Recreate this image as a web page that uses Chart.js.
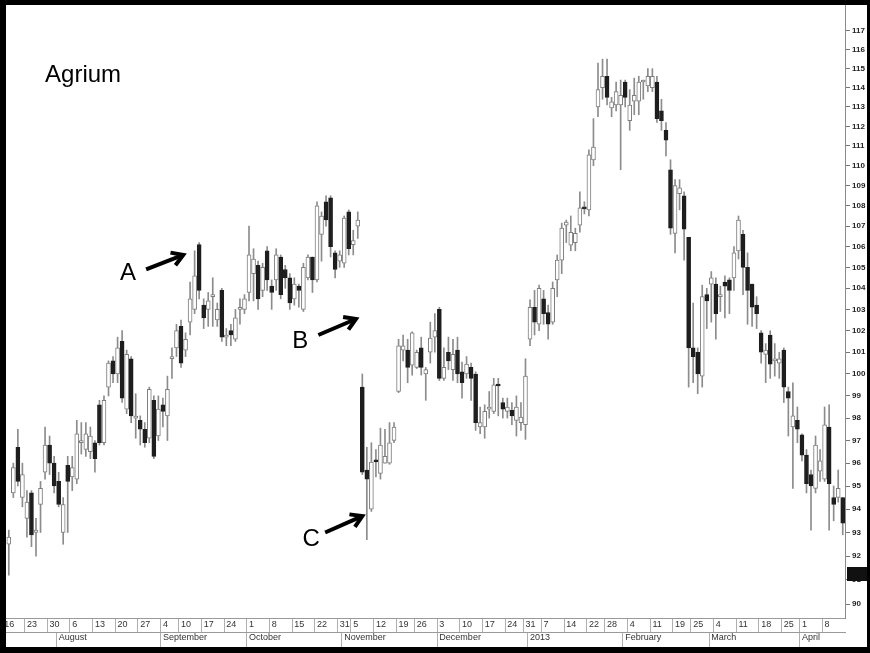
<!DOCTYPE html>
<html>
<head>
<meta charset="utf-8">
<script src="https://cdn.jsdelivr.net/npm/chart.js@4.4.1/dist/chart.umd.min.js"></script>
<style>
  html, body { margin: 0; padding: 0; background: #fff; }
  #wrap { position: relative; width: 870px; height: 653px; overflow: hidden; }
  #frame {
    position: absolute; left: 0; top: 0; width: 870px; height: 653px;
    box-sizing: border-box; border-style: solid; border-color: #000;
    border-width: 5px 3px 6px 6px; pointer-events: none;
  }
</style>
</head>
<body>
<div id="wrap">
  <canvas id="chart" width="870" height="653"></canvas>
  <div id="frame"></div>
</div>
<script>
// trading calendar, Jul 16 2012 - Apr 12 2013 (weekends and exchange holidays left out)
const firstDay = '2012-07-16';
const lastDay = '2013-04-12';
const holidays = ['2012-09-03', '2012-10-29', '2012-10-30', '2012-11-22', '2012-12-25',
  '2013-01-01', '2013-01-21', '2013-02-18', '2013-03-29'];

// tick labels
const weekTicks = ['16', '23', '30', '6', '13', '20', '27', '4', '10', '17', '24', '1', '8', '15', '22',
  '31', '5', '12', '19', '26', '3', '10', '17', '24', '31', '7', '14', '22', '28', '4', '11', '19', '25',
  '4', '11', '18', '25', '1', '8'];
const monthTicks = ['August', 'September', 'October', 'November', 'December', '2013', 'February', 'March', 'April'];
const priceTicks = [90, 91, 92, 93, 94, 95, 96, 97, 98, 99, 100, 101, 102, 103, 104, 105, 106, 107, 108,
  109, 110, 111, 112, 113, 114, 115, 116, 117];

// daily prices (first day sits under the frame, not visible)
const open = [null,
  92.5, 94.7, 96.7, 94.5, 93.6, 94.7, 93.0, 94.2, 95.6, 96.8,
  96.0, 95.2, 93.0, 95.9, 95.4, 95.3, 96.9, 96.6, 96.5, 96.9,
  98.6, 96.9, 99.4, 100.6, 100.0, 101.5, 98.4, 100.7, 98.0, 97.9,
  97.5, 97.1, 98.8, 97.2, 98.6, 98.1, 100.7, 101.2, 102.2, 101.1,
  102.4, 103.0, 106.1, 103.2, 103.0, 103.6, 102.5, 103.9, 101.7, 102.0,
  101.6, 103.0, 103.0, 103.8, 104.7, 105.1, 103.9, 105.8, 104.1, 104.4,
  105.5, 104.9, 104.5, 103.5, 104.1, 103.0, 104.5, 105.5, 104.4, 106.6,
  108.2, 108.4, 105.7, 105.3, 105.2, 107.7, 106.1, 107.0, 99.4, 95.7,
  94.0, 96.15, 95.55, 96.0, 96.0, 97.0, 99.2, 101.1, 101.1, 100.4,
  100.3, 101.2, 100.0, 101.0, 101.7, 103.0, 99.8, 101.0, 100.2, 101.1,
  100.1, 100.0, 100.3, 100.0, 97.6, 97.6, 98.4, 98.3, 99.5, 98.7,
  98.3, 98.35, 97.9, 97.8, 97.7, 101.6, 103.1, 102.3, 103.5, 102.85,
  102.4, 104.4, 105.35, 107.05, 106.07, 106.2, 107.05, 107.95, 107.8, 110.3,
  113.0, 114.0, 114.6, 112.95, 113.1, 113.1, 114.3, 112.3, 113.3, 113.3,
  114.3, 114.1, 114.0, 114.3, 112.8, 111.8, 109.8, 106.65, 108.6, 108.5,
  106.45, 101.2, 101.0, 99.9, 103.7, 104.2, 104.2, 103.6, 104.3, 104.4,
  104.5, 105.8, 106.6, 105.0, 104.2, 103.2, 101.9, 100.9, 101.8, 100.6,
  100.5, 101.1, 99.2, 97.6, 97.9, 97.25, 96.35, 95.5, 94.9, 95.65,
  95.3, 97.6, 94.5, 94.5, 94.5];
const high = [null,
  93.1, 96.0, 97.5, 96.0, 94.8, 94.8, 93.6, 95.2, 97.6, 97.2,
  96.3, 95.6, 94.5, 96.3, 96.3, 97.9, 97.8, 97.8, 97.6, 97.0,
  98.8, 99.0, 100.6, 100.8, 101.7, 102.0, 101.1, 100.8, 99.1, 98.1,
  97.8, 99.4, 99.0, 99.0, 98.9, 99.9, 101.2, 102.3, 102.5, 101.9,
  104.3, 105.8, 106.2, 103.5, 103.8, 104.5, 103.3, 104.0, 102.1, 102.3,
  103.0, 103.5, 103.7, 107.0, 105.9, 105.3, 105.2, 106.0, 104.4, 105.9,
  105.6, 105.1, 104.7, 104.5, 104.2, 105.2, 105.6, 105.5, 108.2, 107.7,
  108.5, 108.5, 105.8, 105.8, 107.5, 107.8, 106.8, 107.7, 100.0, 96.7,
  96.9, 96.6, 97.55, 97.5, 97.8, 97.8, 101.6, 101.8, 101.6, 101.95,
  101.1, 101.7, 100.3, 102.4, 102.8, 103.1, 101.2, 101.7, 101.6, 101.7,
  100.55, 100.8, 100.5, 100.1, 98.5, 98.6, 99.2, 99.8, 99.8, 98.9,
  98.9, 98.7, 99.0, 98.7, 100.7, 103.45, 103.9, 104.15, 103.9, 103.2,
  104.3, 105.6, 107.15, 107.3, 107.5, 106.9, 108.7, 108.2, 110.8, 112.4,
  115.3, 115.5, 115.5, 113.5, 114.3, 114.4, 114.4, 113.9, 114.5, 114.6,
  114.4, 115.0, 115.0, 114.6, 113.4, 112.2, 110.3, 109.3, 109.3, 108.7,
  106.45, 103.3, 101.2, 104.15, 104.0, 104.8, 104.5, 104.1, 104.6, 104.5,
  106.0, 107.5, 106.8, 105.7, 104.2, 103.6, 102.0, 101.4, 102.0, 101.4,
  101.0, 101.2, 99.4, 99.6, 98.5, 97.3, 96.6, 95.7, 97.2, 96.6,
  98.5, 98.6, 95.0, 95.7, 94.5];
const low = [null,
  91.2, 94.5, 95.0, 94.1, 92.8, 92.4, 92.0, 93.0, 95.3, 95.5,
  94.7, 94.1, 92.5, 93.0, 94.8, 95.1, 96.4, 96.3, 96.2, 95.6,
  96.8, 96.8, 99.0, 99.6, 99.6, 98.7, 98.2, 97.8, 97.1, 96.8,
  96.7, 96.9, 96.2, 97.0, 97.6, 97.0, 99.8, 100.8, 100.3, 100.8,
  101.8, 102.8, 103.5, 102.1, 102.2, 102.2, 102.2, 101.5, 101.3, 101.3,
  101.5, 102.3, 102.8, 103.4, 103.4, 103.0, 103.6, 103.9, 103.0, 103.9,
  103.5, 104.0, 103.0, 103.2, 103.1, 102.9, 104.4, 103.8, 104.3, 105.3,
  107.0, 105.5, 104.5, 105.0, 105.0, 105.6, 105.6, 106.4, 95.5, 92.7,
  93.9, 95.4, 95.3, 96.0, 95.95, 96.9, 99.15, 100.6, 99.6, 99.95,
  100.25, 99.95, 98.8, 100.5, 101.0, 99.7, 99.7, 100.2, 99.7, 99.6,
  98.9, 99.8, 98.8, 97.45, 97.3, 97.1, 98.0, 98.2, 98.1, 98.0,
  98.0, 97.7, 97.2, 97.45, 97.05, 101.3, 101.8, 102.0, 102.3, 101.6,
  102.3, 103.6, 104.7, 106.2, 105.8, 105.8, 106.7, 107.6, 107.5, 110.0,
  112.5, 113.4, 113.1, 112.5, 112.8, 109.8, 113.0, 111.8, 112.6, 112.6,
  113.4, 113.8, 113.8, 112.2, 111.8, 110.5, 106.6, 105.7, 107.8, 105.35,
  99.4, 99.6, 99.1, 99.4, 102.1, 102.4, 101.6, 102.9, 102.6, 102.8,
  103.9, 105.4, 103.7, 102.3, 102.2, 102.1, 100.5, 99.6, 99.8, 99.9,
  99.8, 98.7, 97.2, 94.9, 96.9, 96.1, 94.7, 93.1, 94.7, 95.2,
  95.2, 93.1, 93.5, 94.3, 92.9];
const close = [null,
  92.8, 95.8, 95.2, 95.5, 94.3, 92.9, 93.1, 94.9, 96.8, 96.0,
  95.0, 94.2, 94.2, 95.2, 95.8, 97.3, 97.0, 97.3, 97.2, 96.2,
  96.9, 98.8, 100.5, 100.0, 101.2, 98.9, 100.9, 98.1, 98.05, 97.5,
  96.9, 99.3, 96.3, 98.4, 98.3, 99.3, 100.8, 102.0, 100.5, 101.6,
  103.5, 104.6, 103.9, 102.6, 103.4, 103.7, 103.0, 101.7, 101.8, 101.8,
  102.6, 103.1, 103.5, 105.6, 105.4, 103.5, 105.0, 104.4, 103.8, 105.6,
  103.7, 104.5, 103.3, 104.2, 103.9, 105.0, 105.5, 104.4, 108.0, 107.5,
  107.3, 106.0, 104.9, 105.6, 107.4, 105.9, 106.3, 107.3, 95.6, 95.3,
  96.05, 96.05, 96.8, 96.3, 96.9, 97.6, 101.3, 101.3, 100.3, 101.9,
  101.0, 100.3, 100.2, 101.66, 102.0, 99.8, 100.3, 100.6, 100.9, 100.0,
  99.6, 100.45, 99.8, 97.8, 97.8, 98.3, 98.5, 99.5, 99.45, 98.4,
  98.5, 98.1, 98.5, 98.05, 99.9, 103.1, 102.4, 104.0, 102.8, 102.3,
  104.0, 105.35, 106.9, 107.2, 106.7, 106.65, 107.9, 107.85, 110.55, 110.95,
  113.9, 114.6, 113.5, 113.26, 113.8, 113.6, 113.5, 113.1, 113.6, 114.3,
  114.3, 114.6, 114.6, 112.4, 112.3, 111.3, 106.9, 109.0, 108.9, 106.85,
  101.2, 100.8, 100.0, 103.6, 103.4, 104.5, 102.8, 103.65, 104.1, 103.9,
  105.7, 107.3, 105.0, 103.9, 103.1, 102.8, 101.0, 101.1, 100.45, 100.6,
  100.7, 99.4, 98.9, 98.1, 97.5, 96.35, 95.1, 95.0, 96.8, 96.1,
  97.7, 95.1, 94.2, 94.9, 93.4];

// black price flag on the right axis
const flagPrice = 91.25;

// build the category list
const categories = [];
for (let d = new Date(firstDay + 'T00:00:00Z'); d <= new Date(lastDay + 'T00:00:00Z'); d.setUTCDate(d.getUTCDate() + 1)) {
  const iso = d.toISOString().slice(0, 10);
  const wd = d.getUTCDay();
  if (wd === 0 || wd === 6 || holidays.includes(iso)) continue;
  categories.push(iso);
}

// which category starts a new week / month
const weekLabelAt = [];
const monthLabelAt = [];
let w = 0, m = 0;
categories.forEach((iso, i) => {
  const d = new Date(iso + 'T00:00:00Z');
  if (i === 0) { weekLabelAt.push(weekTicks[w++]); monthLabelAt.push(''); return; }
  const prev = new Date(categories[i - 1] + 'T00:00:00Z');
  const newWeek = d.getUTCDay() <= prev.getUTCDay() || (d - prev) > 6 * 86400000;
  weekLabelAt.push(newWeek ? weekTicks[w++] : '');
  monthLabelAt.push(d.getUTCMonth() !== prev.getUTCMonth() ? monthTicks[m++] : '');
});

const wicks = categories.map((c, i) => (low[i] == null ? null : [low[i], high[i]]));
const bodies = categories.map((c, i) => (open[i] == null ? null : [open[i], close[i]]));
const isUp = (i) => close[i] >= open[i];

const axisFont = "'Liberation Sans', Arial, sans-serif";

// text notes and arrows, placed in (day index, price)
const notes = [
  { text: 'A', at: [27.3, 104.7], from: [31.3, 104.9], to: [39.5, 105.6] },
  { text: 'B', at: [65.3, 101.5], from: [69.3, 101.8], to: [77.6, 102.55] },
  { text: 'C', at: [67.7, 92.7], from: [70.8, 93.0], to: [79.0, 93.7] }
];
const titleAt = [9.0, 114.3];

function drawArrow(ctx, x1, y1, x2, y2) {
  const ang = Math.atan2(y2 - y1, x2 - x1);
  const len = 13;
  ctx.beginPath();
  ctx.moveTo(x1, y1);
  ctx.lineTo(x2 - 2 * Math.cos(ang), y2 - 2 * Math.sin(ang));
  ctx.stroke();
  ctx.beginPath();
  ctx.moveTo(x2 - len * Math.cos(ang - 0.55), y2 - len * Math.sin(ang - 0.55));
  ctx.lineTo(x2, y2);
  ctx.lineTo(x2 - len * Math.cos(ang + 0.55), y2 - len * Math.sin(ang + 0.55));
  ctx.stroke();
}

const notesPlugin = {
  id: 'notes',
  afterDatasetsDraw(chart) {
    const { ctx, scales } = chart;
    const px = (v) => scales.x.getPixelForValue(v);
    const py = (v) => scales.y.getPixelForValue(v);
    ctx.save();
    ctx.fillStyle = '#000';
    ctx.strokeStyle = '#000';
    ctx.font = "24px 'Liberation Sans', Arial, sans-serif";
    ctx.textAlign = 'left';
    ctx.textBaseline = 'alphabetic';
    ctx.fillText('Agrium', px(titleAt[0]), py(titleAt[1]));
    ctx.textAlign = 'center';
    ctx.textBaseline = 'middle';
    ctx.lineWidth = 4;
    ctx.lineJoin = 'miter';
    ctx.lineCap = 'butt';
    notes.forEach((n) => {
      ctx.fillText(n.text, px(n.at[0]), py(n.at[1]));
      drawArrow(ctx, px(n.from[0]), py(n.from[1]), px(n.to[0]), py(n.to[1]));
    });
    ctx.restore();
  },
  afterDraw(chart) {
    const { ctx, scales } = chart;
    const y = scales.y.getPixelForValue(flagPrice);
    ctx.save();
    ctx.fillStyle = '#111';
    ctx.fillRect(scales.y.left + 2, Math.round(y - 7), chart.width, 14);
    ctx.restore();
  }
};

const noPad = (s) => { s.paddingTop = 0; s.paddingBottom = 0; s.paddingLeft = 0; s.paddingRight = 0; };

new Chart(document.getElementById('chart'), {
  type: 'bar',
  data: {
    labels: categories,
    datasets: [
      {
        label: 'range',
        data: wicks,
        order: 2,
        grouped: false,
        barThickness: 1,
        backgroundColor: '#8c8c8c',
        borderWidth: 0
      },
      {
        label: 'body',
        data: bodies,
        order: 1,
        grouped: false,
        barThickness: 4,
        minBarLength: 2,
        borderSkipped: false,
        borderWidth: 1,
        backgroundColor: (c) => (isUp(c.dataIndex) ? '#ffffff' : '#1e1e1e'),
        borderColor: (c) => (isUp(c.dataIndex) ? '#7d7d7d' : '#1e1e1e')
      }
    ]
  },
  options: {
    responsive: false,
    animation: false,
    events: [],
    layout: { padding: { left: 2, top: 5, right: 0, bottom: 6 } },
    plugins: { legend: { display: false }, tooltip: { enabled: false } },
    scales: {
      x: {
        type: 'category',
        position: 'bottom',
        weight: 0,
        offset: true,
        afterFit: (s) => { s.height = 14; noPad(s); },
        border: { display: true, color: '#9a9a9a', width: 1 },
        grid: {
          offset: true,
          drawOnChartArea: false,
          drawTicks: true,
          tickLength: 14,
          color: (c) => (weekLabelAt[c.index] ? '#b0b0b0' : 'rgba(0,0,0,0)')
        },
        ticks: {
          autoSkip: false,
          maxRotation: 0,
          minRotation: 0,
          align: 'start',
          padding: -13,
          color: '#333',
          font: { family: axisFont, size: 9 },
          callback: (v, i) => weekLabelAt[i]
        }
      },
      xm: {
        type: 'category',
        position: 'bottom',
        weight: 1,
        offset: true,
        afterFit: (s) => { s.height = 15; noPad(s); },
        border: { display: true, color: '#9a9a9a', width: 1 },
        grid: {
          offset: true,
          drawOnChartArea: false,
          drawTicks: true,
          tickLength: 15,
          color: (c) => (monthLabelAt[c.index] ? '#b0b0b0' : 'rgba(0,0,0,0)')
        },
        ticks: {
          autoSkip: false,
          maxRotation: 0,
          minRotation: 0,
          align: 'start',
          padding: -15,
          color: '#333',
          font: { family: axisFont, size: 9 },
          callback: (v, i) => monthLabelAt[i]
        }
      },
      y: {
        type: 'logarithmic',
        position: 'right',
        min: 89.43,
        max: 118.4,
        afterFit: (s) => { s.width = 25; noPad(s); },
        afterBuildTicks: (s) => {
          const t = [];
          priceTicks.forEach((v) => { t.push({ value: v }); t.push({ value: v + 0.5 }); });
          s.ticks = t.filter((o) => o.value <= s.max && o.value >= s.min);
        },
        border: { display: true, color: '#8a8a8a', width: 1 },
        grid: {
          drawOnChartArea: false,
          drawTicks: true,
          tickLength: 5,
          color: (c) => (c.tick && Number.isInteger(c.tick.value) ? '#777' : '#c4c4c4')
        },
        ticks: {
          padding: 2,
          color: '#222',
          font: { family: axisFont, size: 8, weight: 'bold' },
          callback: (v) => (Number.isInteger(v) ? String(v) : '')
        }
      }
    }
  },
  plugins: [notesPlugin]
});
</script>
</body>
</html>
